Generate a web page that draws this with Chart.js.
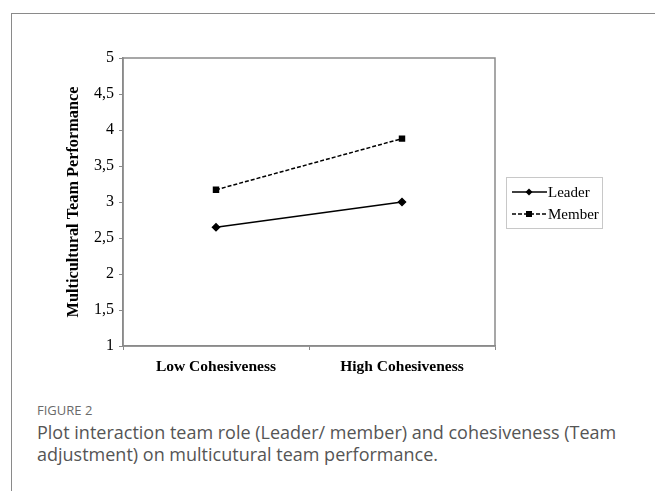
<!DOCTYPE html>
<html>
<head>
<meta charset="utf-8">
<script src="https://cdn.jsdelivr.net/npm/chart.js@4.4.1/dist/chart.umd.min.js"></script>
<style>
  body { margin: 0; background: #fff; width: 655px; height: 491px; overflow: hidden; }
  #frame { position: absolute; left: 11px; top: 13px; right: 0; bottom: 0;
           border-left: 1px solid #8a8a8a; border-top: 1px solid #8a8a8a; }
  #wrap { position: absolute; left: 0; top: 0; width: 655px; height: 400px; }
  #fig { position: absolute; left: 37px; top: 401px; font-family: "Open Sans", sans-serif;
         font-size: 13px; color: #6a6a6a; }
  #cap { position: absolute; left: 37px; top: 421px; width: 610px; font-family: "Open Sans", sans-serif;
         font-size: 18px; line-height: 22px; color: #555; }
</style>
</head>
<body>
<div id="frame"></div>
<div id="wrap"><canvas id="teamChart" width="655" height="400"></canvas></div>
<div id="fig">FIGURE 2</div>
<div id="cap">Plot interaction team role (Leader/ member) and cohesiveness (Team adjustment) on multicutural team performance.</div>
<script>
const categories = ["Low Cohesiveness", "High Cohesiveness"];
const leaderValues = [2.65, 3.0];
const memberValues = [3.17, 3.88];
const yTicks = ["1", "1,5", "2", "2,5", "3", "3,5", "4", "4,5", "5"];

const serif = "'Liberation Serif', 'Times New Roman', serif";
const axisGray = "#8a8a8a";

// draws the box round the plot and the legend at the right
const framePlugin = {
  id: "framePlugin",
  afterDraw(chart) {
    const { ctx, chartArea } = chart;
    ctx.save();
    ctx.strokeStyle = axisGray;
    ctx.lineWidth = 1.5;
    ctx.strokeRect(chartArea.left, chartArea.top, chartArea.right - chartArea.left, chartArea.bottom - chartArea.top);

    const lx = 506, ly = 177, lw = 96, lh = 51;
    ctx.strokeStyle = "#c8c8c8";
    ctx.lineWidth = 1;
    ctx.strokeRect(lx + 0.5, ly + 0.5, lw, lh);
    chart.data.datasets.forEach((ds, i) => {
      const y = ly + 15 + i * 22;
      ctx.strokeStyle = "#000";
      ctx.lineWidth = 1.3;
      ctx.setLineDash(ds.borderDash || []);
      ctx.beginPath();
      ctx.moveTo(lx + 6, y);
      ctx.lineTo(lx + 41, y);
      ctx.stroke();
      ctx.setLineDash([]);
      ctx.fillStyle = "#000";
      if (ds.pointStyle === "rect") {
        ctx.fillRect(lx + 23 - 3, y - 3, 6, 6);
      } else {
        ctx.beginPath();
        ctx.moveTo(lx + 23, y - 3.5);
        ctx.lineTo(lx + 26.5, y);
        ctx.lineTo(lx + 23, y + 3.5);
        ctx.lineTo(lx + 19.5, y);
        ctx.closePath();
        ctx.fill();
      }
      ctx.font = "15px " + serif;
      ctx.textBaseline = "middle";
      ctx.fillText(ds.label, lx + 42, y + 1);
    });
    ctx.restore();
  }
};

new Chart(document.getElementById("teamChart"), {
  type: "line",
  data: {
    labels: categories,
    datasets: [
      {
        label: "Leader",
        data: leaderValues,
        borderColor: "#000",
        backgroundColor: "#000",
        borderWidth: 1.5,
        pointStyle: "rectRot",
        pointRadius: 3.5,
        tension: 0
      },
      {
        label: "Member",
        data: memberValues,
        borderColor: "#000",
        backgroundColor: "#000",
        borderWidth: 1.5,
        borderDash: [4, 2],
        pointStyle: "rect",
        pointRadius: 3.5,
        tension: 0
      }
    ]
  },
  options: {
    responsive: false,
    animation: false,
    layout: { padding: { left: 60, top: 58, right: 160, bottom: 0 } },
    plugins: {
      legend: { display: false },
      tooltip: { enabled: false }
    },
    scales: {
      x: {
        offset: true,
        grid: { offset: true, drawOnChartArea: false, tickLength: 4, color: axisGray },
        border: { color: axisGray, width: 1.5 },
        ticks: { color: "#000", font: { family: serif, size: 15.5, weight: "bold" }, padding: 8 },
        afterFit(scale) { scale.height = 54; }
      },
      y: {
        min: 1,
        max: 5,
        ticks: {
          stepSize: 0.5,
          color: "#000",
          font: { family: serif, size: 16 },
          padding: 5,
          callback: (v, i) => yTicks[i]
        },
        grid: { drawOnChartArea: false, tickLength: 4, color: axisGray },
        border: { color: axisGray, width: 1.5 },
        title: {
          display: true,
          text: "Multicultural Team Performance",
          color: "#000",
          font: { family: serif, size: 16.3, weight: "bold" },
          padding: { top: 4, bottom: 4 }
        },
        afterFit(scale) { scale.width = 63; }
      }
    }
  },
  plugins: [framePlugin]
});
</script>
</body>
</html>
